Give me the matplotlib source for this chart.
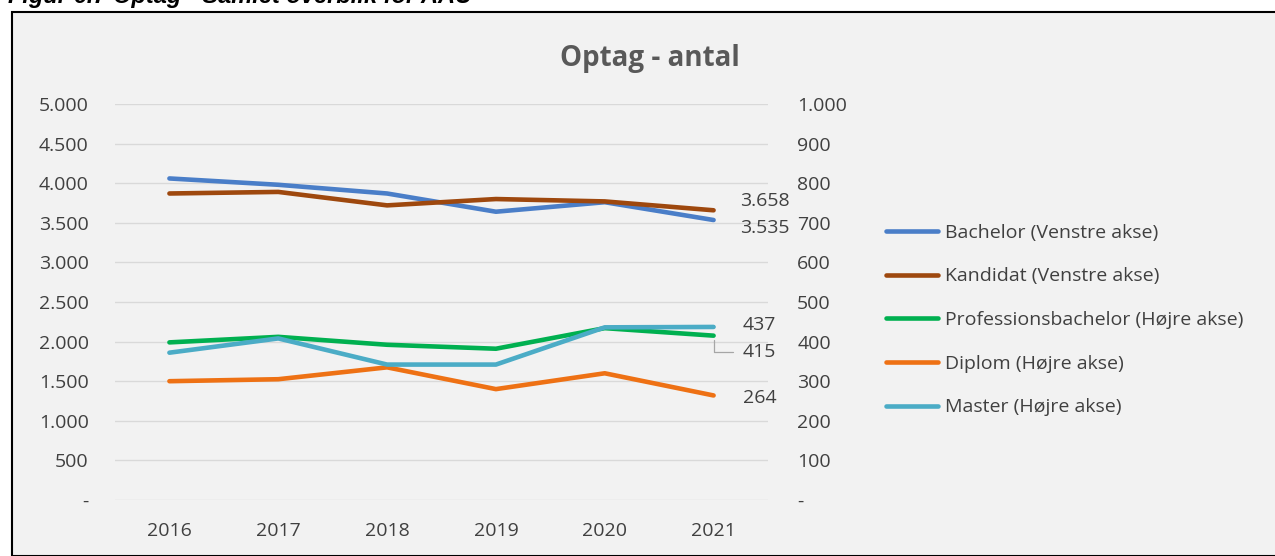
import matplotlib
matplotlib.use('Agg')
import matplotlib.pyplot as plt
from matplotlib.patches import Rectangle
from matplotlib.ticker import FuncFormatter, MultipleLocator

plt.rcParams['font.family'] = ['Open Sans', 'DejaVu Sans']

years = ['2016', '2017', '2018', '2019', '2020', '2021']
bachelor = [4060, 3980, 3870, 3640, 3760, 3535]
kandidat = [3870, 3890, 3720, 3800, 3770, 3658]
profbachelor = [398, 412, 392, 382, 434, 415]
diplom = [300, 305, 335, 280, 320, 264]
master = [372, 408, 342, 342, 436, 437]

bg = '#F2F2F2'
txt = '#404040'
fs = 14

def dk_fmt(v, pos=None):
    if abs(v) < 1e-9:
        return '-'
    return f'{v:,.0f}'.replace(',', '.')

fig = plt.figure(figsize=(12.75, 5.56), dpi=100, facecolor='white')
fig.patches.append(Rectangle((12 / 1275, 0), 1.0, 1 - 12 / 556, transform=fig.transFigure,
                             facecolor=bg, edgecolor='black', linewidth=1.5, zorder=-10))
# caption above the chart, cut off by the top edge like in the source
fig.text(0.006, 1 - 3 / 556, 'Figur 6.7 Optag - Samlet overblik for AAU', fontsize=17,
         fontweight='bold', style='italic', family='Liberation Sans', va='baseline')

ax = fig.add_axes([115 / 1275, 1 - 500 / 556, 653 / 1275, 396 / 556])
ax2 = ax.twinx()
ax.set_facecolor('none')
ax2.set_facecolor('none')

x = list(range(len(years)))
lw = 3.3
ax.plot(x, bachelor, color='#4A7EC8', lw=lw, label='Bachelor (Venstre akse)', solid_capstyle='round')
ax.plot(x, kandidat, color='#9E480E', lw=lw, label='Kandidat (Venstre akse)', solid_capstyle='round')
ax2.plot(x, profbachelor, color='#00B050', lw=lw, label='Professionsbachelor (Højre akse)', solid_capstyle='round')
ax2.plot(x, diplom, color='#EE7114', lw=lw, label='Diplom (Højre akse)', solid_capstyle='round')
ax2.plot(x, master, color='#4BACC6', lw=lw, label='Master (Højre akse)', solid_capstyle='round')

ax.set_xlim(-0.5, 5.5)
ax.set_ylim(0, 5000)
ax2.set_ylim(0, 1000)
ax.yaxis.set_major_locator(MultipleLocator(500))
ax2.yaxis.set_major_locator(MultipleLocator(100))
ax.yaxis.set_major_formatter(FuncFormatter(dk_fmt))
ax2.yaxis.set_major_formatter(FuncFormatter(dk_fmt))
ax.set_xticks(x)
ax.set_xticklabels(years)
ax.grid(axis='y', color='#D9D9D9', lw=1)
ax.set_axisbelow(True)
for a in (ax, ax2):
    for s in a.spines.values():
        s.set_visible(False)
    a.tick_params(length=0, labelsize=fs, labelcolor=txt)
ax.tick_params(axis='y', pad=19)
ax.tick_params(axis='x', pad=16)
ax2.tick_params(axis='y', pad=21)

# data labels at 2021
last = len(years) - 1
lab = dict(textcoords='offset points', fontsize=fs, color=txt, va='center')
ax.annotate(dk_fmt(kandidat[-1]), (last, kandidat[-1]), xytext=(19, 6.5), **lab)
ax.annotate(dk_fmt(bachelor[-1]), (last, bachelor[-1]), xytext=(19, -6), **lab)
ax2.annotate(dk_fmt(master[-1]), (last, master[-1]), xytext=(21, 1.5), **lab)
ax2.annotate(dk_fmt(profbachelor[-1]), (last, profbachelor[-1]), xytext=(21, -11.5),
             arrowprops=dict(arrowstyle='-', color='#A6A6A6', lw=0.9, relpos=(0, 0.5),
                             connectionstyle='angle,angleA=0,angleB=90,rad=0',
                             shrinkA=5, shrinkB=3), **lab)
ax2.annotate(dk_fmt(diplom[-1]), (last, diplom[-1]), xytext=(21, -2), **lab)

ax.set_title('Optag - antal', fontsize=20, fontweight='bold', color='#595959', pad=27,
             x=(650 - 115) / 653)

h1, l1 = ax.get_legend_handles_labels()
h2, l2 = ax2.get_legend_handles_labels()
fig.legend(h1 + h2, l1 + l2, loc='center left', bbox_to_anchor=(0.681, 1 - 320 / 556), frameon=False,
           fontsize=fs, labelcolor=txt, handlelength=2.7, handletextpad=0.36, labelspacing=1.32)

fig.savefig('out.png', dpi=100, facecolor='white')
